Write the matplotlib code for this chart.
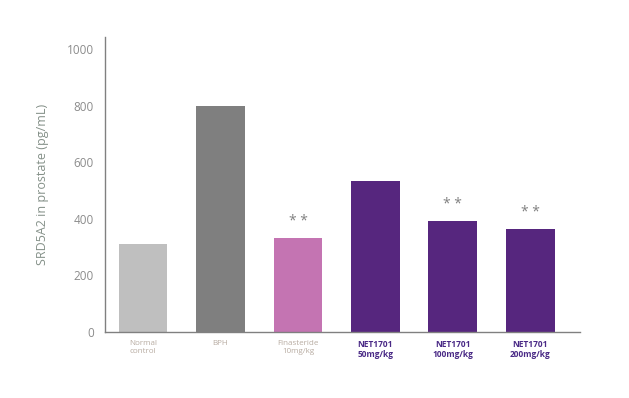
import matplotlib.pyplot as plt

plt.rcParams['font.family'] = ['Open Sans', 'DejaVu Sans']

groups = ['Normal\ncontrol', 'BPH', 'Finasteride\n10mg/kg',
          'NET1701\n50mg/kg', 'NET1701\n100mg/kg', 'NET1701\n200mg/kg']
values = [312, 797, 333, 535, 393, 365]
colors = ['#bfbfbf', '#7f7f7f', '#c474b2', '#56267e', '#56267e', '#56267e']
marks = ['', '', '* *', '', '* *', '* *']
yticks = [0, 200, 400, 600, 800, 1000]

fig = plt.figure(figsize=(6.29, 3.98), dpi=100)
ax = fig.add_axes([0.167, 0.166, 0.755, 0.741])

x = list(range(len(groups)))
ax.bar(x, values, width=0.63, color=colors)

for xi, v, m in zip(x, values, marks):
    if m:
        ax.text(xi, v + 30, m, ha='center', va='bottom', fontsize=10,
                color='#7f7f7f')

ax.set_xlim(-0.49, 5.64)
ax.set_ylim(0, 1042)
ax.set_yticks(yticks)
ax.set_yticklabels([str(t) for t in yticks], fontsize=8.5, color='#8c8c8c')
ax.set_xticks(x)
ax.set_xticklabels(groups, fontsize=5.8, linespacing=1.1)
for i, lab in enumerate(ax.get_xticklabels()):
    if i < 3:
        lab.set_color('#b8aca2')
    else:
        lab.set_color('#4a2a86')
        lab.set_fontweight('bold')
        lab.set_fontsize(6)

ax.tick_params(axis='both', length=0, pad=8)
ax.tick_params(axis='x', pad=6)
ax.set_ylabel('SRD5A2 in prostate (pg/mL)', fontsize=9, color='#849088',
              labelpad=13)

for s in ['top', 'right']:
    ax.spines[s].set_visible(False)
for s in ['left', 'bottom']:
    ax.spines[s].set_color('#808080')
    ax.spines[s].set_linewidth(1.0)

fig.savefig('out.png', dpi=100)
